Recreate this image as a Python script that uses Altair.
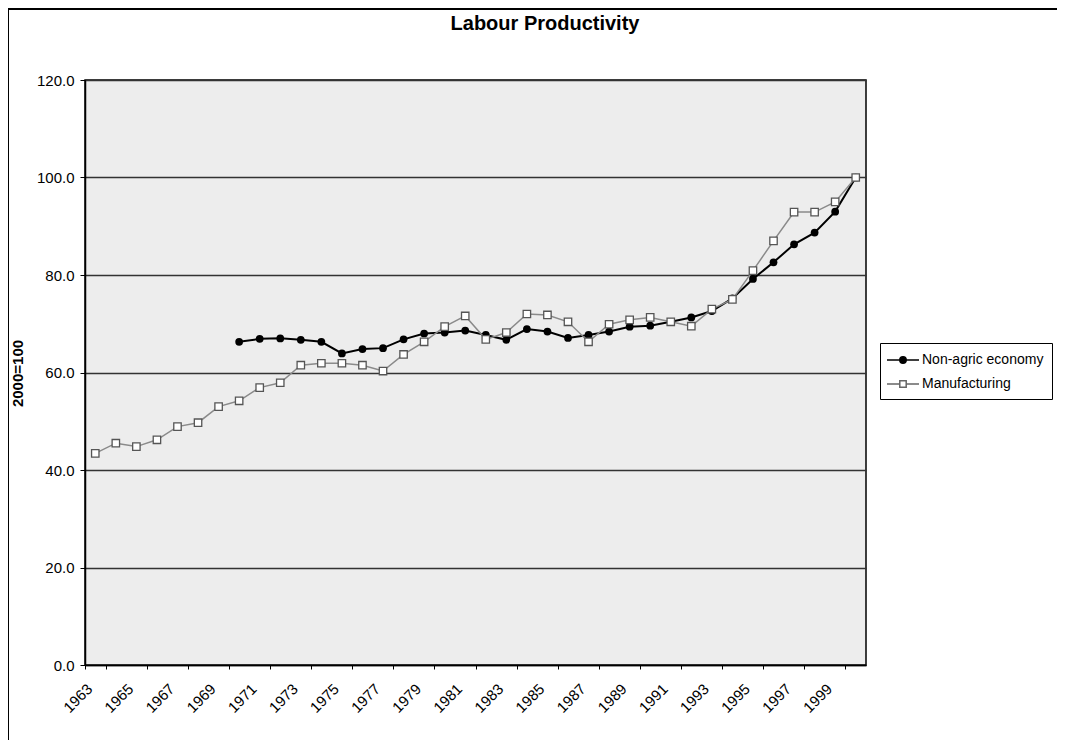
import altair as alt
import pandas as pd

years = [1963, 1964, 1965, 1966, 1967, 1968, 1969, 1970, 1971, 1972,
         1973, 1974, 1975, 1976, 1977, 1978, 1979, 1980, 1981, 1982,
         1983, 1984, 1985, 1986, 1987, 1988, 1989, 1990, 1991, 1992,
         1993, 1994, 1995, 1996, 1997, 1998, 1999, 2000]

manufacturing = [43.4, 45.5, 44.8, 46.2, 48.9, 49.7, 53.0, 54.2, 56.9, 57.9,
                 61.5, 61.9, 61.9, 61.5, 60.3, 63.7, 66.3, 69.4, 71.6, 66.8,
                 68.2, 72.0, 71.8, 70.4, 66.3, 69.9, 70.8, 71.3, 70.4, 69.5,
                 73.0, 75.0, 80.9, 87.0, 92.9, 92.9, 95.0, 100.0]

non_agric = [None, None, None, None, None, None, None, 66.3, 66.9, 67.0,
             66.7, 66.3, 63.9, 64.8, 65.0, 66.8, 68.0, 68.2, 68.6, 67.7,
             66.7, 68.9, 68.4, 67.1, 67.7, 68.4, 69.4, 69.6, 70.4, 71.3,
             72.6, 75.2, 79.2, 82.6, 86.3, 88.7, 93.0, 100.0]

series_names = ["Non-agric economy", "Manufacturing"]
label_years = [1963, 1965, 1967, 1969, 1971, 1973, 1975, 1977, 1979, 1981,
               1983, 1985, 1987, 1989, 1991, 1993, 1995, 1997, 1999]
y_ticks = [0, 20, 40, 60, 80, 100, 120]
chart_title = "Labour Productivity"
y_title = "2000=100"

rows = []
for y, v in zip(years, non_agric):
    if v is not None:
        rows.append({"year": y, "value": v, "series": series_names[0]})
for y, v in zip(years, manufacturing):
    rows.append({"year": y, "value": v, "series": series_names[1]})
df = pd.DataFrame(rows)

FONT = "Liberation Sans"

x_enc = alt.X(
    "year:O",
    scale=alt.Scale(type="band", domain=years, paddingInner=0, paddingOuter=0),
    bandPosition=0.5,
    axis=alt.Axis(
        values=label_years, labelAngle=-45, labelAlign="right",
        labelBaseline="middle", labelPadding=17, labelOffset=-6,
        tickBand="extent", tickSize=4, tickColor="black",
        domainColor="black", domainWidth=1.5,
        labelFontSize=15, labelFont=FONT, labelColor="black", title=None,
        grid=False,
    ),
)
y_enc = alt.Y(
    "value:Q",
    scale=alt.Scale(domain=[0, 120], nice=False),
    axis=alt.Axis(
        values=y_ticks, format=".1f", grid=True, gridColor="#333333",
        gridWidth=1.5, tickSize=5, tickColor="black", domainColor="black",
        domainWidth=1.5, labelFontSize=15, labelFont=FONT, labelColor="black",
        labelPadding=6, title=y_title, titleFont=FONT, titleFontSize=15,
        titleFontWeight="bold", titleColor="black", titleX=-68, titleY=293,
        titleBaseline="middle", titleAngle=270,
    ),
)

base = alt.Chart(df)

na_line = base.transform_filter(alt.datum.series == series_names[0]).mark_line(
    color="black", strokeWidth=2).encode(x=x_enc, y=y_enc)
na_pts = base.transform_filter(alt.datum.series == series_names[0]).mark_point(
    shape="circle", filled=True, color="black", size=60, opacity=1).encode(x=x_enc, y=y_enc)
mf_line = base.transform_filter(alt.datum.series == series_names[1]).mark_line(
    color="#8a8a8a", strokeWidth=1.5).encode(x=x_enc, y=y_enc)
mf_pts = base.transform_filter(alt.datum.series == series_names[1]).mark_point(
    shape="square", filled=False, fill="white", stroke="#555555", strokeWidth=1.3,
    size=55, opacity=1).encode(x=x_enc, y=y_enc)

circle_path = "M-2,0L2,0M-0.4,0A0.4,0.4,0,1,1,0.4,0A0.4,0.4,0,1,1,-0.4,0Z"
square_path = "M-2,0L-0.4,0M0.4,0L2,0M-0.4,-0.4L0.4,-0.4L0.4,0.4L-0.4,0.4Z"

leg = alt.Legend(
    title=None, orient="none", legendX=795, legendY=263, strokeColor="black",
    fillColor="white", padding=8, labelFont=FONT, labelFontSize=14,
    labelColor="black", symbolSize=256, symbolStrokeWidth=1.5,
    symbolOffset=6, labelOffset=10, rowPadding=8,
)
legend_layer = base.transform_filter("datum.value > 1000").mark_point(opacity=1).encode(
    x=x_enc, y=y_enc,
    shape=alt.Shape("series:N", scale=alt.Scale(domain=series_names, range=[circle_path, square_path]), legend=leg),
    fill=alt.Fill("series:N", scale=alt.Scale(domain=series_names, range=["black", "white"]), legend=leg),
    stroke=alt.Stroke("series:N", scale=alt.Scale(domain=series_names, range=["black", "#666666"]), legend=leg),
)

one = pd.DataFrame({"label": [chart_title]})
title_mark = alt.Chart(one).mark_text(
    font=FONT, fontSize=20, fontWeight="bold", color="black",
    align="center", baseline="alphabetic").encode(
    x=alt.value(460), y=alt.value(-50), text="label:N")
top_border = alt.Chart(one).mark_rule(color="black", strokeWidth=2).encode(
    x=alt.value(-77), x2=alt.value(972), y=alt.value(-71))
left_border = alt.Chart(one).mark_rule(color="black", strokeWidth=2).encode(
    x=alt.value(-77), y=alt.value(-71), y2=alt.value(667))

chart = alt.layer(
    na_line, na_pts, mf_line, mf_pts, legend_layer, title_mark, top_border, left_border
).properties(
    width=781, height=585,
    autosize=alt.AutoSizeParams(type="none"),
    padding={"left": 77, "top": 72, "right": 191, "bottom": 75},
    background="white",
).configure_view(
    fill="#ededed", stroke="black", strokeWidth=1.5
)

chart.save("out.html", embed_options={"renderer": "svg", "actions": False})
